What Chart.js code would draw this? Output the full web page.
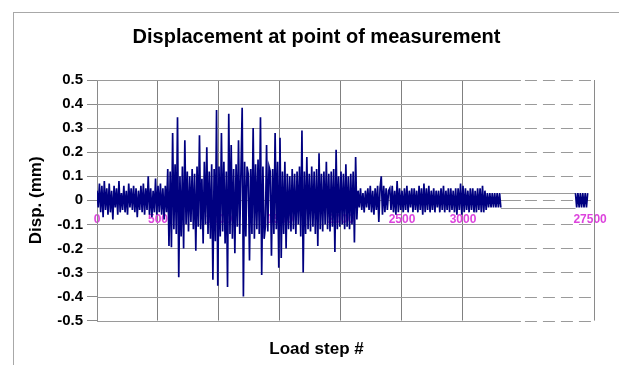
<!DOCTYPE html>
<html><head><meta charset="utf-8">
<script src="https://cdn.jsdelivr.net/npm/chart.js@4.4.1/dist/chart.umd.min.js"></script>
<style>
html,body{margin:0;padding:0;background:#fff;overflow:hidden;width:619px;height:365px;}
#frame{position:absolute;left:13px;top:12px;width:700px;height:500px;border:1px solid #a8a8a8;box-sizing:border-box;}
#wrap{position:absolute;left:0;top:0;width:619px;height:365px;}
</style></head><body>
<div id="frame"></div>
<div id="wrap"><canvas id="c" width="619" height="365"></canvas></div>
<script>
// ---- data ----
const SAMPLE_INTERVAL = 10;            // load steps between samples
const mainStart = 0;
const mainDisp = [
 0.04,-0.03,0.07,-0.05,0.06,-0.07,0.08,-0.04,0.05,-0.06,
 0.07,-0.05,0.04,-0.08,0.06,-0.03,0.05,-0.06,0.08,-0.05,
 0.03,-0.04,0.06,-0.05,0.04,-0.06,0.07,-0.03,0.05,-0.04,
 0.06,-0.05,0.05,-0.07,0.04,-0.04,0.06,-0.05,0.07,-0.06,
 0.05,-0.04,0.10,-0.06,0.05,-0.07,0.04,-0.05,0.09,-0.06,
 0.06,-0.05,0.07,-0.06,0.05,-0.08,0.06,-0.05,0.13,-0.19,
 0.12,-0.195,0.28,-0.12,0.15,-0.14,0.345,-0.32,0.10,-0.15,
 0.14,-0.20,0.25,-0.10,0.12,-0.13,0.10,-0.09,0.13,-0.12,
 0.11,-0.21,0.14,-0.11,0.27,-0.12,0.09,-0.18,0.16,-0.10,
 0.22,-0.14,0.12,-0.16,0.15,-0.33,0.13,-0.17,0.375,-0.355,
 0.14,-0.15,0.28,-0.13,0.16,-0.18,0.12,-0.36,0.36,-0.14,
 0.23,-0.16,0.13,-0.22,0.15,-0.11,0.25,-0.14,0.12,0.385,
 -0.40,0.16,-0.15,0.14,0.11,-0.25,0.13,-0.14,0.30,-0.16,
 0.15,-0.12,0.17,-0.14,0.345,-0.31,0.14,-0.16,-0.11,0.23,
 -0.13,0.14,0.12,-0.23,0.13,-0.14,0.28,-0.12,0.16,-0.28,
 0.26,-0.24,0.12,-0.14,0.16,-0.20,0.11,-0.12,0.10,-0.13,
 0.13,-0.12,0.11,-0.14,0.12,-0.10,0.14,-0.15,0.29,-0.30,
 0.12,-0.14,0.18,-0.12,0.11,-0.13,0.14,-0.11,0.12,-0.14,
 0.13,-0.19,0.195,-0.12,0.11,-0.13,0.12,-0.10,0.16,-0.12,
 0.11,-0.13,0.12,-0.11,0.13,-0.215,0.21,-0.12,0.10,-0.11,
 0.12,-0.10,0.11,-0.12,0.15,-0.11,0.10,-0.12,0.11,-0.10,
 0.12,-0.175,0.18,-0.08,0.04,-0.03,0.05,-0.04,0.03,-0.05,
 0.04,-0.03,0.05,-0.04,0.06,-0.05,0.04,-0.06,0.05,-0.04,
 0.06,-0.09,0.05,0.10,-0.06,0.06,-0.05,0.05,-0.04,0.04,
 0.05,-0.04,0.06,-0.05,0.04,-0.06,0.08,-0.05,0.05,-0.04,
 0.04,-0.05,0.05,-0.04,0.06,-0.05,0.04,-0.03,0.05,-0.05,
 0.05,-0.04,0.04,-0.05,0.06,-0.04,0.05,-0.06,0.07,-0.05,
 0.05,-0.04,0.06,-0.05,0.04,-0.04,0.05,-0.05,0.04,-0.03,
 0.04,-0.05,0.05,-0.04,0.06,-0.05,0.04,-0.04,0.05,-0.05,
 0.05,-0.04,0.04,-0.05,0.05,-0.06,0.05,-0.04,0.07,-0.06,
 0.06,-0.05,0.05,-0.04,0.04,-0.05,0.05,-0.04,0.05,-0.05,
 0.04,-0.05,0.05,-0.04,0.05,-0.05,0.06,-0.05,0.04,-0.04,
 0.03,-0.03,0.03,-0.03,0.03,-0.03,0.03,-0.03,0.03,-0.03,0.03,-0.03
];
const clusterStart = 27380;
const clusterDisp = [0.03,-0.03,0.03,-0.03,0.03,-0.03,0.03,-0.03,0.03,-0.03,0.03];
const xTickSteps = [0,500,1000,1500,2000,2500,3000,27500];
const yMin = -0.5, yMax = 0.5, yStep = 0.1;

// ---- broken axis: steps beyond the break are shifted left ----
const BREAK_AT = 5000;
const BREAK_OFFSET = 23458;
const DASH_FROM = 3475;   // display units where the gridlines turn dashed
const toDisplay = s => (s > BREAK_AT ? s - BREAK_OFFSET : s);

const points = [];
mainDisp.forEach((v, i) => points.push({x: toDisplay(mainStart + i * SAMPLE_INTERVAL), y: v}));
clusterDisp.forEach((v, i) => points.push({x: toDisplay(clusterStart + i * SAMPLE_INTERVAL), y: v}));

const FONT = 'Arial, "Liberation Sans", sans-serif';
const NAVY = '#000080';

const brokenGrid = {
  id: 'brokenGrid',
  beforeDatasetsDraw(chart) {
    const {ctx, chartArea: a, scales: {x, y}} = chart;
    const xDash = x.getPixelForValue(DASH_FROM);
    ctx.save();
    ctx.lineWidth = 1;
    y.ticks.forEach(t => {
      const py = Math.round(y.getPixelForValue(t.value)) + 0.5;
      ctx.strokeStyle = '#9a9a9a';
      ctx.setLineDash([]);
      ctx.beginPath(); ctx.moveTo(a.left, py); ctx.lineTo(xDash, py); ctx.stroke();
      ctx.setLineDash([12, 6]);
      ctx.beginPath(); ctx.moveTo(xDash + 4, py); ctx.lineTo(a.right, py); ctx.stroke();
    });
    ctx.setLineDash([]);
    ctx.strokeStyle = '#8a8a8a';
    const rx = Math.round(a.right) - 0.5;
    ctx.beginPath(); ctx.moveTo(rx, a.top); ctx.lineTo(rx, a.bottom); ctx.stroke();
    // band joining the two blocks across the break
    const lastMain = mainStart + (mainDisp.length - 1) * SAMPLE_INTERVAL;
    const xa = x.getPixelForValue(toDisplay(lastMain));
    const xb = x.getPixelForValue(toDisplay(clusterStart));
    const hi = Math.max(...clusterDisp), lo = Math.min(...clusterDisp);
    ctx.strokeStyle = '#9a9a9a';
    [hi, lo].forEach(v => {
      const py = Math.round(y.getPixelForValue(v)) + 0.5;
      ctx.beginPath(); ctx.moveTo(xa, py); ctx.lineTo(xb, py); ctx.stroke();
    });
    ctx.restore();
  }
};

new Chart(document.getElementById('c'), {
  type: 'line',
  data: {
    datasets: [{
      data: points,
      borderColor: NAVY,
      borderWidth: 1.7,
      pointRadius: 0,
      tension: 0,
      fill: false,
      segment: {
        borderColor: c => (c.p1.parsed.x - c.p0.parsed.x > 100 ? 'rgba(0,0,0,0)' : NAVY)
      }
    }]
  },
  options: {
    responsive: false,
    animation: false,
    events: [],
    layout: {padding: {left: 36, right: 22, top: 0, bottom: 0}},
    scales: {
      x: {
        type: 'linear',
        position: {y: 0},
        min: 0,
        max: 4080,
        afterBuildTicks: s => { s.ticks = xTickSteps.map(v => ({value: toDisplay(v)})); },
        afterFit: s => { s.height = 0; },
        ticks: {
          autoSkip: false, maxRotation: 0, minRotation: 0,
          color: '#dd44dd',
          font: {family: FONT, size: 12, weight: 'bold'},
          padding: 12,
          callback: (v, i) => String(xTickSteps[i])
        },
        grid: {
          drawTicks: false,
          lineWidth: 1,
          color: c => (c.tick && c.tick.value > 3500 ? 'rgba(0,0,0,0)' : '#808080')
        },
        border: {display: false}
      },
      y: {
        min: yMin, max: yMax,
        afterFit: s => { s.width = 61; },
        ticks: {
          stepSize: yStep,
          color: '#000',
          font: {family: FONT, size: 15, weight: 'bold'},
          padding: 4,
          callback: v => String(Math.round(v * 10) / 10)
        },
        grid: {drawOnChartArea: false, drawTicks: true, tickLength: 10, color: '#8a8a8a'},
        border: {display: true, color: '#8a8a8a'},
        title: {
          display: true, text: 'Disp. (mm)', color: '#000',
          font: {family: FONT, size: 17, weight: 'bold'},
          padding: {top: -10, bottom: 0}
        }
      }
    },
    plugins: {
      legend: {display: false},
      tooltip: {enabled: false},
      decimation: {enabled: false},
      title: {
        display: true, text: 'Displacement at point of measurement', color: '#000',
        font: {family: FONT, size: 20, weight: 'bold'},
        padding: {top: 25, bottom: 31}
      },
      subtitle: {
        display: true, position: 'bottom', text: 'Load step #', color: '#000',
        font: {family: FONT, size: 17, weight: 'bold'},
        padding: {top: 19, bottom: 5}
      }
    }
  },
  plugins: [brokenGrid]
});
</script>
</body></html>
